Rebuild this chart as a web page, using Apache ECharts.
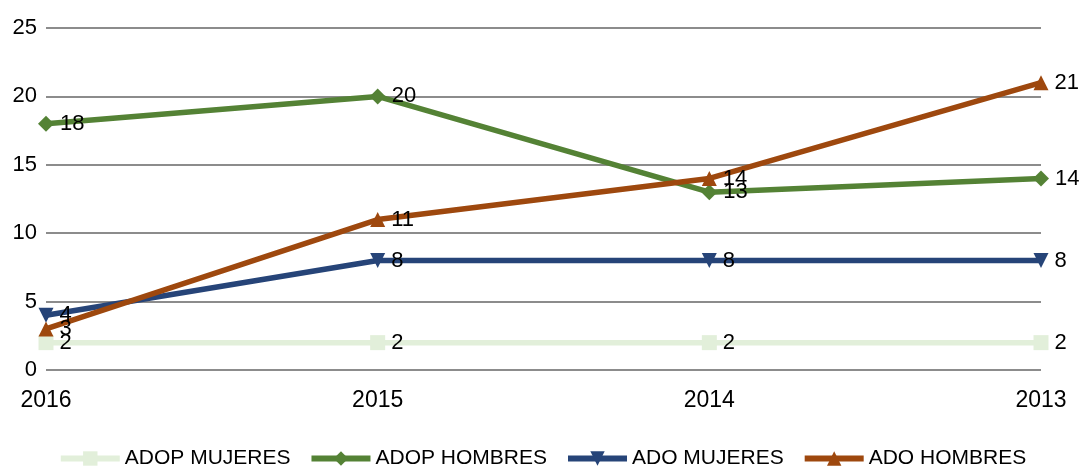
<!DOCTYPE html>
<html>
    <head>
        <meta charset="utf-8">
        <title>Adopciones</title>
        <script src="https://cdn.jsdelivr.net/npm/echarts@6/dist/echarts.min.js"></script>
        <style>
            html, body { margin: 0; padding: 0; background: #fff; }
            #chart1 { width: 1084px; height: 468px; }
        </style>
    </head>
    <body>
        <div id="chart1"></div>
        <script type="text/javascript">
            // datos
            var years = ['2016', '2015', '2014', '2013'];
            var adopMujeres = [2, 2, 2, 2];
            var adopHombres = [18, 20, 13, 14];
            var adoMujeres = [4, 8, 8, 8];
            var adoHombres = [3, 11, 14, 21];
            var yTicks = [0, 5, 10, 15, 20, 25];

            var myChart1 = echarts.init(document.getElementById('chart1'));

            var fontFam = 'Liberation Sans, Arial, sans-serif';

            function makeSeries(name, data, color, symbol, size, rotate) {
                return {
                    name: name,
                    type: 'line',
                    data: data,
                    symbol: symbol,
                    symbolSize: size,
                    symbolRotate: rotate || 0,
                    lineStyle: { color: color, width: 5.5 },
                    itemStyle: { color: color },
                    label: {
                        show: true,
                        position: 'right',
                        distance: 6,
                        color: '#000',
                        fontSize: 22,
                        fontFamily: fontFam
                    }
                };
            }

            myChart1.setOption({
                animation: false,
                grid: { left: 46, right: 43, top: 28, bottom: 98 },
                legend: {
                    top: 443,
                    left: 'center',
                    itemWidth: 59,
                    itemHeight: 18,
                    itemGap: 18,
                    lineStyle: { width: 6 },
                    textStyle: { fontSize: 21, fontFamily: fontFam, color: '#000' },
                    data: ['ADOP MUJERES', 'ADOP HOMBRES', 'ADO MUJERES', 'ADO HOMBRES']
                },
                xAxis: {
                    type: 'category',
                    data: years,
                    boundaryGap: false,
                    axisLine: { show: false },
                    axisTick: { show: false },
                    axisLabel: { fontSize: 23, fontFamily: fontFam, color: '#000', margin: 19 }
                },
                yAxis: {
                    type: 'value',
                    min: yTicks[0],
                    max: yTicks[yTicks.length - 1],
                    interval: 5,
                    axisLine: { show: false },
                    axisTick: { show: false },
                    axisLabel: { fontSize: 22, fontFamily: fontFam, color: '#000', margin: 9 },
                    splitLine: { lineStyle: { color: '#8c8c8c', width: 2 } }
                },
                series: [
                    makeSeries('ADOP MUJERES', adopMujeres, '#e2efda', 'rect', 15),
                    makeSeries('ADOP HOMBRES', adopHombres, '#548235', 'diamond', 16),
                    makeSeries('ADO MUJERES', adoMujeres, '#264478', 'triangle', 15, 180),
                    makeSeries('ADO HOMBRES', adoHombres, '#9e480e', 'triangle', 15)
                ]
            });
        </script>
    </body>
</html>
